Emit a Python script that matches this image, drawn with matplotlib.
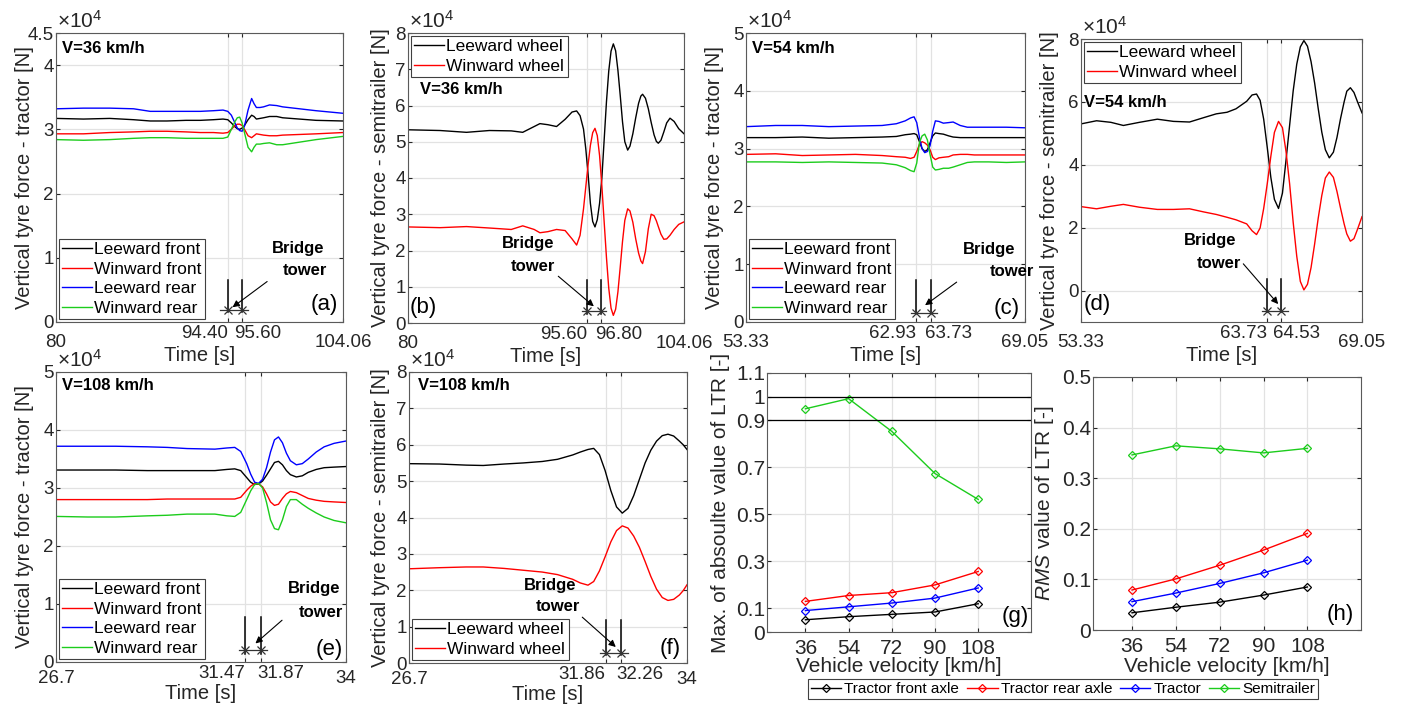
import matplotlib
matplotlib.use('Agg')
import matplotlib.pyplot as plt
from matplotlib.transforms import ScaledTranslation

plt.rcParams['font.family'] = ['Liberation Sans', 'DejaVu Sans']
plt.rcParams['mathtext.fontset'] = 'custom'
plt.rcParams['mathtext.rm'] = 'Liberation Sans'
plt.rcParams['mathtext.it'] = 'Liberation Sans:italic'

# ---- data (forces in 1e4 N) ----
t_a = [80, 82.3, 84.5, 86.5, 87.9, 89.3, 90.9, 92.1, 93.2, 94.0, 94.4, 94.7, 95.0, 95.2, 95.4,
       95.6, 95.8, 96.1, 96.4, 96.6, 96.8, 97.1, 97.4, 97.9, 98.5, 99.0, 100.4, 101.8, 104.06]
a_lee_front = [3.17, 3.16, 3.17, 3.15, 3.13, 3.13, 3.14, 3.14, 3.15, 3.16, 3.15, 3.10, 3.04, 3.01, 3.00,
               3.02, 3.06, 3.15, 3.22, 3.20, 3.16, 3.17, 3.18, 3.20, 3.20, 3.18, 3.16, 3.14, 3.13]
a_win_front = [2.93, 2.93, 2.95, 2.96, 2.97, 2.97, 2.96, 2.95, 2.95, 2.94, 2.95, 3.00, 3.06, 3.08, 3.08,
               3.06, 3.00, 2.90, 2.87, 2.90, 2.93, 2.92, 2.91, 2.90, 2.90, 2.91, 2.92, 2.93, 2.95]
a_lee_rear = [3.32, 3.33, 3.33, 3.32, 3.28, 3.28, 3.28, 3.28, 3.29, 3.30, 3.28, 3.22, 3.10, 3.02, 2.98,
              2.97, 3.05, 3.30, 3.48, 3.40, 3.34, 3.34, 3.35, 3.38, 3.37, 3.35, 3.32, 3.29, 3.25]
a_win_rear = [2.84, 2.83, 2.84, 2.86, 2.87, 2.87, 2.86, 2.86, 2.86, 2.86, 2.88, 3.00, 3.12, 3.18, 3.19,
              3.10, 2.95, 2.72, 2.65, 2.72, 2.77, 2.77, 2.78, 2.79, 2.76, 2.76, 2.80, 2.84, 2.89]

t_b = [80.0, 82.8, 85.1, 87.1, 89.0, 90.0, 91.0, 91.5, 92.2, 92.95,
       93.7, 94.3, 94.7, 95.0, 95.3, 95.5, 95.7, 95.9, 96.1, 96.3,
       96.5, 96.7, 96.9, 97.1, 97.3, 97.5, 97.7, 97.9, 98.1, 98.3,
       98.5, 98.7, 98.9, 99.15, 99.35, 99.6, 99.85, 100.1, 100.3, 100.45,
       100.7, 100.95, 101.2, 101.45, 101.65, 101.82, 102.05, 102.3, 102.55, 102.84,
       103.2, 103.6, 104.06]
b_lee = [5.33, 5.31, 5.26, 5.31, 5.30, 5.26, 5.42, 5.50, 5.47, 5.42,
         5.62, 5.82, 5.85, 5.72, 5.35, 4.80, 4.10, 3.30, 2.80, 2.65,
         2.85, 3.30, 4.00, 5.05, 6.10, 6.95, 7.50, 7.70, 7.51, 6.97,
         6.28, 5.55, 5.00, 4.77, 4.88, 5.22, 5.66, 6.06, 6.26, 6.31,
         6.20, 5.91, 5.53, 5.19, 5.01, 4.96, 5.04, 5.27, 5.52, 5.65,
         5.56, 5.36, 5.22]
b_win = [2.65, 2.63, 2.66, 2.62, 2.58, 2.68, 2.58, 2.49, 2.52, 2.58,
         2.55, 2.32, 2.15, 2.42, 3.15, 3.76, 4.37, 4.90, 5.25, 5.37,
         5.17, 4.62, 3.78, 2.79, 1.81, 0.96, 0.41, 0.21, 0.38, 0.86,
         1.54, 2.25, 2.83, 3.15, 3.09, 2.78, 2.32, 1.93, 1.71, 1.64,
         1.97, 2.60, 3.00, 2.96, 2.82, 2.66, 2.45, 2.31, 2.32, 2.42,
         2.58, 2.72, 2.79]

t_c = [53.33, 55.0, 56.5, 58.0, 59.5, 61.0, 61.8, 62.3, 62.6, 62.8, 62.95, 63.1, 63.25, 63.4,
       63.55, 63.7, 63.85, 64.0, 64.2, 64.45, 64.75, 65.0, 65.4, 65.8, 66.2, 67.0, 68.0, 69.05]
c_lee_front = [3.19, 3.19, 3.20, 3.18, 3.19, 3.20, 3.21, 3.24, 3.25, 3.26, 3.24, 3.12, 3.00, 2.95,
               2.98, 3.10, 3.22, 3.27, 3.26, 3.25, 3.22, 3.20, 3.19, 3.19, 3.19, 3.19, 3.19, 3.19]
c_win_front = [2.90, 2.91, 2.88, 2.89, 2.90, 2.88, 2.86, 2.85, 2.83, 2.85, 2.95, 3.07, 3.12, 3.10,
               3.06, 2.98, 2.85, 2.81, 2.84, 2.85, 2.86, 2.89, 2.90, 2.90, 2.89, 2.89, 2.89, 2.89]
c_lee_rear = [3.38, 3.40, 3.40, 3.38, 3.39, 3.40, 3.43, 3.48, 3.53, 3.55, 3.45, 3.20, 3.00, 2.93,
              2.95, 3.05, 3.30, 3.48, 3.47, 3.44, 3.45, 3.46, 3.40, 3.37, 3.37, 3.37, 3.37, 3.36]
c_win_rear = [2.77, 2.77, 2.76, 2.77, 2.76, 2.75, 2.72, 2.67, 2.62, 2.60, 2.75, 3.10, 3.22, 3.25,
              3.15, 2.90, 2.68, 2.63, 2.64, 2.66, 2.66, 2.68, 2.72, 2.76, 2.77, 2.77, 2.76, 2.77]

t_d = [53.33, 54.2, 55.0, 55.7, 56.6, 57.6, 58.5, 59.4, 60.2, 60.9, 61.5, 62.0, 62.6, 62.9, 63.15,
       63.35, 63.55, 63.75, 63.95, 64.15, 64.38, 64.6, 64.8, 65.0, 65.2,
       65.4, 65.6, 65.8, 66.0, 66.2, 66.4, 66.6, 66.8, 67.0, 67.22,
       67.45, 67.65, 67.85, 68.05, 68.2, 68.4, 68.6, 68.8, 69.05]
d_lee = [5.30, 5.40, 5.35, 5.25, 5.35, 5.45, 5.38, 5.36, 5.50, 5.62, 5.67, 5.78, 6.02, 6.22, 6.25,
         6.05, 5.45, 4.55, 3.60, 2.90, 2.61, 3.10, 4.15, 5.25, 6.35,
         7.20, 7.75, 7.95, 7.77, 7.28, 6.60, 5.79, 5.04, 4.48, 4.22,
         4.40, 4.87, 5.47, 6.00, 6.34, 6.45, 6.30, 6.00, 5.65]
d_win = [2.67, 2.60, 2.68, 2.74, 2.65, 2.58, 2.58, 2.60, 2.50, 2.42, 2.33, 2.25, 2.12, 1.90, 1.78,
         1.99, 2.61, 3.40, 4.27, 5.03, 5.38, 5.18, 4.42, 3.40, 2.17,
         1.09, 0.29, 0.02, 0.20, 0.73, 1.48, 2.30, 3.02, 3.58, 3.77,
         3.60, 3.15, 2.62, 2.12, 1.80, 1.57, 1.65, 1.95, 2.35]

t_e = [26.7, 27.5, 28.2, 29.0, 29.5, 30.0, 30.7, 31.0, 31.2, 31.35, 31.5, 31.6, 31.7, 31.8, 31.9,
       32.0, 32.1, 32.2, 32.3, 32.4, 32.5, 32.6, 32.75, 32.9, 33.05, 33.25, 33.45, 33.7, 34.0]
e_lee_front = [3.31, 3.31, 3.31, 3.30, 3.30, 3.30, 3.30, 3.32, 3.33, 3.30, 3.18, 3.10, 3.06, 3.07, 3.12,
               3.22, 3.33, 3.44, 3.46, 3.40, 3.30, 3.23, 3.19, 3.21, 3.27, 3.32, 3.35, 3.36, 3.37]
e_win_front = [2.80, 2.80, 2.80, 2.80, 2.81, 2.81, 2.81, 2.81, 2.81, 2.84, 2.96, 3.03, 3.08, 3.07, 3.02,
               2.90, 2.76, 2.70, 2.72, 2.82, 2.90, 2.94, 2.92, 2.87, 2.82, 2.79, 2.77, 2.76, 2.75]
e_lee_rear = [3.72, 3.72, 3.72, 3.71, 3.70, 3.68, 3.67, 3.69, 3.70, 3.63, 3.42, 3.24, 3.10, 3.08, 3.15,
              3.35, 3.62, 3.83, 3.88, 3.78, 3.60, 3.47, 3.40, 3.42, 3.50, 3.62, 3.71, 3.77, 3.81]
e_win_rear = [2.51, 2.50, 2.50, 2.52, 2.53, 2.55, 2.55, 2.52, 2.51, 2.58, 2.80, 2.95, 3.06, 3.08, 3.00,
              2.75, 2.45, 2.30, 2.28, 2.45, 2.68, 2.80, 2.80, 2.72, 2.65, 2.57, 2.50, 2.44, 2.40]

t_f = [26.7, 27.5, 28.2, 28.65, 29.2, 29.7, 30.2, 30.6, 31.0, 31.2, 31.4, 31.55, 31.7, 31.85, 32.0,
       32.15, 32.3, 32.45, 32.6, 32.75, 32.9, 33.05, 33.2, 33.35, 33.5, 33.65, 33.8, 33.9, 34.0]
f_lee = [5.48, 5.47, 5.44, 5.43, 5.47, 5.50, 5.54, 5.60, 5.72, 5.80, 5.87, 5.90, 5.73, 5.29, 4.74,
         4.29, 4.12, 4.25, 4.60, 5.05, 5.50, 5.85, 6.10, 6.25, 6.29, 6.24, 6.10, 6.00, 5.87]
f_win = [2.59, 2.62, 2.64, 2.64, 2.60, 2.55, 2.50, 2.43, 2.30, 2.20, 2.14, 2.24, 2.53, 2.92, 3.33,
         3.64, 3.77, 3.71, 3.49, 3.18, 2.79, 2.38, 2.03, 1.80, 1.72, 1.75, 1.87, 1.99, 2.15]

velocity = [36, 54, 72, 90, 108]
max_front = [0.052, 0.065, 0.075, 0.085, 0.120]
max_rear = [0.130, 0.155, 0.167, 0.200, 0.257]
max_tractor = [0.091, 0.107, 0.123, 0.144, 0.187]
max_semi = [0.948, 0.991, 0.852, 0.673, 0.563]
rms_front = [0.034, 0.045, 0.055, 0.069, 0.085]
rms_rear = [0.079, 0.101, 0.128, 0.158, 0.191]
rms_tractor = [0.056, 0.073, 0.092, 0.113, 0.138]
rms_semi = [0.346, 0.364, 0.358, 0.350, 0.359]

tractor_names = ['Leeward front', 'Winward front', 'Leeward rear', 'Winward rear']
trailer_names = ['Leeward wheel', 'Winward wheel']
ltr_names = ['Tractor front axle', 'Tractor rear axle', 'Tractor', 'Semitrailer']

BLUE = '#0000ff'
GREEN = '#1ccc1c'
RED = '#ff0000'
GRID = '#e2e2e2'
TXT = '#262626'

fig = plt.figure(figsize=(14.03, 7.06), dpi=100)


def px_axes(l, r, t, b):
    W, H = 1403.0, 706.0
    return fig.add_axes([l / W, (H - b) / H, (r - l) / W, (b - t) / H])


def style(ax, xlim, ylim, xticks, xlabels, yticks, ylabels, lsize=13.5):
    ax.set_xlim(xlim)
    ax.set_ylim(ylim)
    ax.set_xticks(xticks)
    ax.set_xticklabels(xlabels)
    ax.set_yticks(yticks)
    ax.set_yticklabels(ylabels)
    ax.grid(True, color=GRID, lw=0.9)
    ax.set_axisbelow(True)
    ax.tick_params(direction='in', length=3, top=True, right=True, labelsize=lsize,
                   colors=TXT, pad=2)
    ax.tick_params(axis='y', pad=1.5)
    for s in ax.spines.values():
        s.set_color('#5a5a5a')
        s.set_linewidth(0.8)


def exponent(ax):
    ax.text(0.004, 1.004, u'\u00d710$^{4}$', transform=ax.transAxes, fontsize=15,
            ha='left', va='bottom', color=TXT)


def bridge(ax, t1, t2, ylo, yhi, yh, xh, tail, tip, pos1, pos2):
    ax.plot([t1, t1], [ylo, yhi], color='k', lw=1.1)
    ax.plot([t2, t2], [ylo, yhi], color='k', lw=1.1)
    ax.plot(xh, [yh, yh], color='#333333', lw=0.9)
    ax.plot([t1, t2], [yh, yh], 'x', color='#333333', ms=5.5, mew=0.9)
    ax.annotate('', xy=tip, xytext=tail,
                arrowprops=dict(arrowstyle='-|>', color='k', lw=0.8,
                                mutation_scale=10, shrinkA=0, shrinkB=0))
    ax.text(pos1[0], pos1[1], 'Bridge', fontsize=12, fontweight='bold',
            ha='center', va='center')
    ax.text(pos2[0], pos2[1], 'tower', fontsize=12, fontweight='bold',
            ha='center', va='center')


def fix_xlabels(ax, end_dy, mid_dx=-5):
    labs = ax.get_xticklabels()
    labs[1].set_ha('right')
    labs[2].set_ha('left')
    labs[2].set_transform(labs[2].get_transform() +
                          ScaledTranslation(mid_dx / 100.0, 0, fig.dpi_scale_trans))
    for i in (0, len(labs) - 1):
        labs[i].set_transform(labs[i].get_transform() +
                              ScaledTranslation(0, -end_dy / 100.0, fig.dpi_scale_trans))


def legend(ax, loc):
    lg = ax.legend(loc=loc, fontsize=12.5, handlelength=1.7, handletextpad=0.15,
                   labelspacing=0.25, borderpad=0.2, borderaxespad=0.15,
                   fancybox=False, framealpha=1, edgecolor='#404040')
    lg.get_frame().set_linewidth(0.8)


def tractor_panel(ax, t, series, xlim, ylim, xticks, xlabels, yticks, ylabels, vtext, vpos):
    for y, c, n in zip(series, ['k', RED, BLUE, GREEN], tractor_names):
        ax.plot(t, y, color=c, lw=1.0, label=n)
    style(ax, xlim, ylim, xticks, xlabels, yticks, ylabels)
    exponent(ax)
    ax.text(vpos[0], vpos[1], vtext, transform=ax.transAxes, fontsize=12,
            fontweight='bold', ha='left', va='center')
    ax.set_ylabel('Vertical tyre force - tractor [N]', fontsize=14.5, color=TXT)
    ax.set_xlabel('Time [s]', fontsize=14.5, color=TXT)
    legend(ax, 'lower left')


def trailer_panel(ax, t, series, xlim, ylim, xticks, xlabels, yticks, ylabels, vtext, vpos, loc):
    for y, c, n in zip(series, ['k', RED], trailer_names):
        ax.plot(t, y, color=c, lw=1.0, label=n)
    style(ax, xlim, ylim, xticks, xlabels, yticks, ylabels)
    exponent(ax)
    ax.text(vpos[0], vpos[1], vtext, transform=ax.transAxes, fontsize=12,
            fontweight='bold', ha='left', va='center')
    ax.set_ylabel('Vertical tyre force - semitrailer [N]', fontsize=14.5, color=TXT)
    ax.set_xlabel('Time [s]', fontsize=14.5, color=TXT)
    legend(ax, loc)


# (a)
ax = px_axes(56, 343, 33, 322)
tractor_panel(ax, t_a, [a_lee_front, a_win_front, a_lee_rear, a_win_rear], (80, 104.06), (0, 4.5),
              [80, 94.40, 95.60, 104.06], ['80', '94.40', '95.60', '104.06'],
              [0, 1, 2, 3, 4, 4.5], ['0', '1', '2', '3', '4', '4.5'], 'V=36 km/h', (0.02, 0.945))
bridge(ax, 94.40, 95.60, 0.16, 0.66, 0.19, [93.75, 96.1], (97.7, 0.63), (94.8, 0.23),
       (100.27, 1.14), (100.9, 0.80))
ax.text(102.5, 0.28, '(a)', fontsize=16, ha='center', va='center')
ax.yaxis.set_label_coords(-0.077, 0.5)
ax.xaxis.set_label_coords(0.5, -0.083)
fix_xlabels(ax, 9, -8)

# (b)
ax = px_axes(408, 684, 33, 323)
trailer_panel(ax, t_b, [b_lee, b_win], (80, 104.06), (0, 8),
              [80, 95.60, 96.80, 104.06], ['80', '95.60', '96.80', '104.06'],
              list(range(9)), [str(i) for i in range(9)], 'V=36 km/h', (0.042, 0.804), 'upper left')
bridge(ax, 95.60, 96.80, 0.26, 1.18, 0.32, [95.15, 97.3], (93.1, 1.29), (96.2, 0.46),
       (90.47, 2.19), (90.85, 1.55))
ax.text(81.3, 0.44, '(b)', fontsize=16, ha='center', va='center')
ax.yaxis.set_label_coords(-0.065, 0.5)
ax.xaxis.set_label_coords(0.5, -0.083)
fix_xlabels(ax, 9, -6)

# (c)
ax = px_axes(746, 1025, 33, 322)
tractor_panel(ax, t_c, [c_lee_front, c_win_front, c_lee_rear, c_win_rear], (53.33, 69.05), (0, 5),
              [53.33, 62.93, 63.73, 69.05], ['53.33', '62.93', '63.73', '69.05'],
              list(range(6)), [str(i) for i in range(6)], 'V=54 km/h', (0.02, 0.945))
bridge(ax, 62.93, 63.73, 0.17, 0.72, 0.16, [62.62, 64.1], (65.2, 0.69), (63.42, 0.29),
       (67.02, 1.25), (68.32, 0.87))
ax.text(68.0, 0.23, '(c)', fontsize=16, ha='center', va='center')
ax.yaxis.set_label_coords(-0.079, 0.5)
ax.xaxis.set_label_coords(0.5, -0.083)
fix_xlabels(ax, 9, -6)

# (d)
ax = px_axes(1081, 1362, 39, 322)
trailer_panel(ax, t_d, [d_lee, d_win], (53.33, 69.05), (-1, 8),
              [53.33, 63.73, 64.53, 69.05], ['53.33', '63.73', '64.53', '69.05'],
              [0, 2, 4, 6, 8], ['0', '2', '4', '6', '8'], 'V=54 km/h', (0.012, 0.776), 'upper left')
bridge(ax, 63.73, 64.53, -0.69, 0.37, -0.64, [63.43, 64.92], (62.41, 0.85), (64.36, -0.43),
       (60.55, 1.6), (61.05, 0.85))
ax.text(54.25, -0.45, '(d)', fontsize=16, ha='center', va='center')
ax.yaxis.set_label_coords(-0.078, 0.5)
ax.xaxis.set_label_coords(0.5, -0.085)
fix_xlabels(ax, 9, -8)

# (e)
ax = px_axes(56, 346, 372, 662)
tractor_panel(ax, t_e, [e_lee_front, e_win_front, e_lee_rear, e_win_rear], (26.7, 34), (0, 5),
              [26.7, 31.47, 31.87, 34], ['26.7', '31.47', '31.87', '34'],
              list(range(6)), [str(i) for i in range(6)], 'V=108 km/h', (0.02, 0.954))
bridge(ax, 31.47, 31.87, 0.14, 0.78, 0.2, [31.3, 32.01], (32.39, 0.72), (31.72, 0.32),
       (33.19, 1.26), (33.38, 0.86))
ax.text(33.57, 0.22, '(e)', fontsize=16, ha='center', va='center')
ax.yaxis.set_label_coords(-0.076, 0.5)
ax.xaxis.set_label_coords(0.5, -0.076)
fix_xlabels(ax, 5, -4)

# (f)
ax = px_axes(409, 687, 372, 663)
trailer_panel(ax, t_f, [f_lee, f_win], (26.7, 34), (0, 8),
              [26.7, 31.86, 32.26, 34], ['26.7', '31.86', '32.26', '34'],
              list(range(9)), [str(i) for i in range(9)], 'V=108 km/h', (0.032, 0.954), 'lower left')
bridge(ax, 31.86, 32.26, 0.21, 1.17, 0.28, [31.71, 32.45], (31.25, 1.26), (32.13, 0.44),
       (30.4, 2.14), (30.61, 1.54))
ax.text(33.55, 0.39, '(f)', fontsize=16, ha='center', va='center')
ax.yaxis.set_label_coords(-0.068, 0.5)
ax.xaxis.set_label_coords(0.5, -0.076)
fix_xlabels(ax, 5, -4)

# (g)
ax = px_axes(767, 1031, 373, 632)
lines = []
for y, c, n in zip([max_front, max_rear, max_tractor, max_semi], ['k', RED, BLUE, GREEN], ltr_names):
    ln, = ax.plot(velocity, y, color=c, lw=1.0, marker='D', ms=4.5, mfc='none', mew=0.9, label=n)
    lines.append(ln)
ax.axhline(1.0, color='k', lw=0.9)
ax.axhline(0.9, color='k', lw=0.9)
style(ax, (20, 130), (0, 1.1), velocity, [str(v) for v in velocity],
      [0, 0.1, 0.3, 0.5, 0.7, 0.9, 1.0, 1.1], ['0', '0.1', '0.3', '0.5', '0.7', '0.9', '1', '1.1'],
      lsize=15)
ax.tick_params(axis='x', pad=5)
ax.set_ylabel('Max. of absoulte value of LTR [-]', fontsize=15, color=TXT)
ax.set_xlabel('Vehicle velocity [km/h]', fontsize=15, color=TXT)
ax.yaxis.set_label_coords(-0.140, 0.5)
ax.xaxis.set_label_coords(0.5, -0.095)
ax.text(123.3, 0.064, '(g)', fontsize=16, ha='center', va='center')

# (h)
ax = px_axes(1093, 1361, 377, 630)
for y, c, n in zip([rms_front, rms_rear, rms_tractor, rms_semi], ['k', RED, BLUE, GREEN], ltr_names):
    ax.plot(velocity, y, color=c, lw=1.0, marker='D', ms=4.5, mfc='none', mew=0.9, label=n)
style(ax, (20, 130), (0, 0.5), velocity, [str(v) for v in velocity],
      [0, 0.1, 0.2, 0.3, 0.4, 0.5], ['0', '0.1', '0.2', '0.3', '0.4', '0.5'], lsize=15)
ax.tick_params(axis='x', pad=5)
ax.set_ylabel(r'$\it{RMS}$ value of LTR [-]', fontsize=15, color=TXT)
ax.set_xlabel('Vehicle velocity [km/h]', fontsize=15, color=TXT)
ax.yaxis.set_label_coords(-0.138, 0.5)
ax.xaxis.set_label_coords(0.5, -0.105)
ax.text(121.5, 0.03, '(h)', fontsize=16, ha='center', va='center')

lg = fig.legend(handles=lines, loc='center', bbox_to_anchor=(0.7577, 0.024), ncol=4,
                fontsize=11, handlelength=2.0, handletextpad=0.2, columnspacing=0.5,
                borderpad=0.2, fancybox=False, framealpha=1, edgecolor='#404040')
lg.get_frame().set_linewidth(0.8)

fig.savefig('out.png', dpi=100)
